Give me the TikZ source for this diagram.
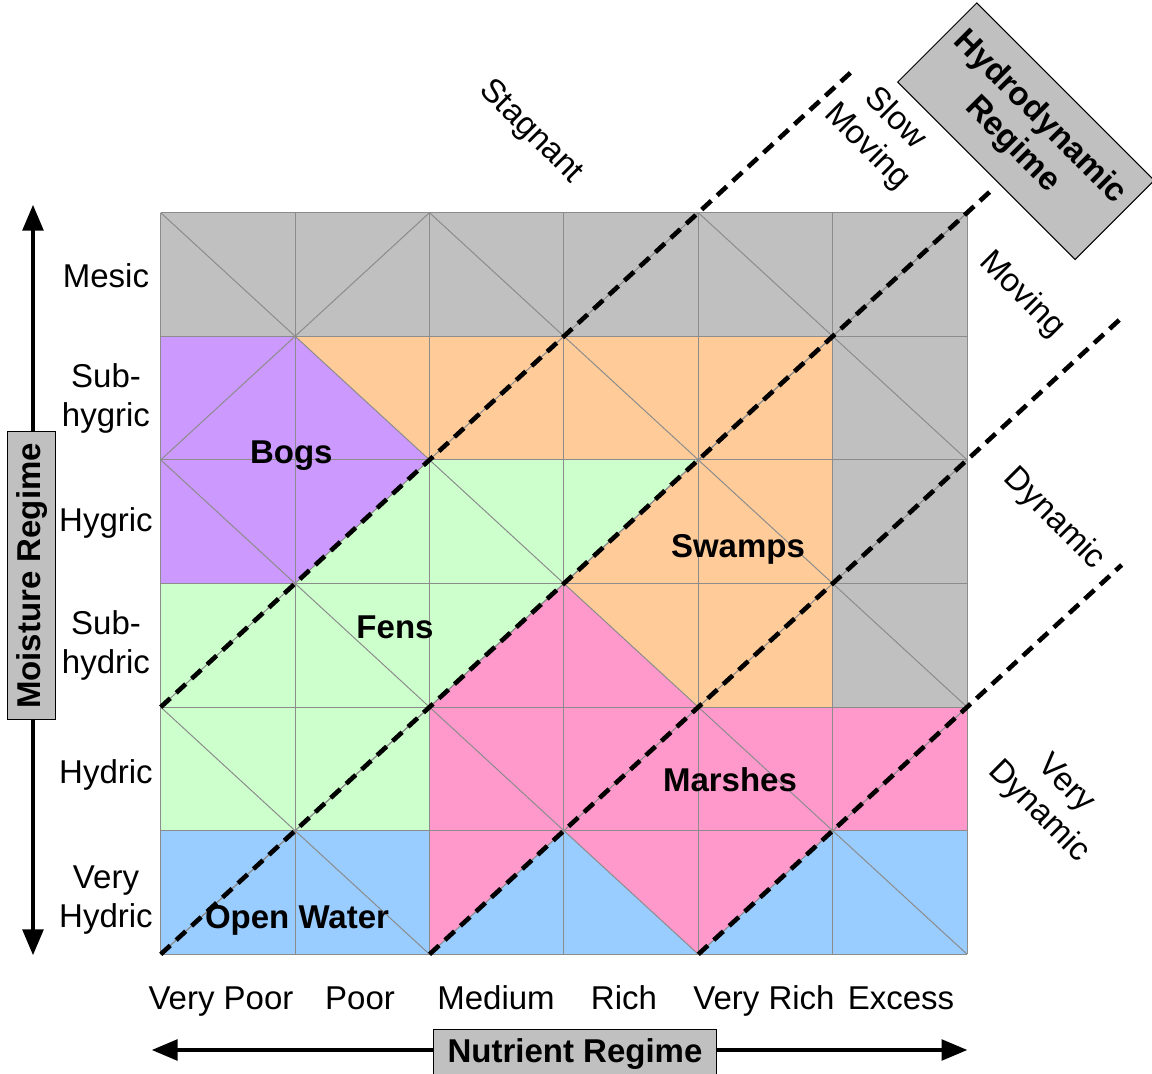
\documentclass[tikz,border=0pt]{standalone}
\usepackage{fontspec}
\setmainfont{Liberation Sans}
\usetikzlibrary{arrows}

\definecolor{mesicgray}{HTML}{C0C0C0}
\definecolor{bogpurple}{HTML}{CC99FF}
\definecolor{swamporange}{HTML}{FFCC99}
\definecolor{fengreen}{HTML}{CCFFCC}
\definecolor{marshpink}{HTML}{FF99CC}
\definecolor{waterblue}{HTML}{99CCFF}
\definecolor{gridgray}{HTML}{8C8C8C}

\begin{document}
\begin{tikzpicture}[x=67.2pt,y=61.8pt]
	\tikzset{cellline/.style={draw=gridgray, line width=0.5pt}}
	\tikzset{border/.style={black, line width=2.3pt, dash pattern=on 6.5pt off 4pt}}
	\tikzset{axis/.style={<->, >=triangle 45, line width=2pt}}
	\tikzset{regime/.style={font=\fontsize{16.5}{19.5}\selectfont, align=center, inner sep=0pt}}
	\tikzset{class/.style={font=\fontsize{16.5}{19.5}\selectfont\bfseries, inner sep=0pt, anchor=base}}
	\tikzset{titlebox/.style={draw, fill=mesicgray, line width=0.5pt, inner sep=0pt,
			font=\fontsize{16.5}{19.5}\selectfont\bfseries, align=center}}
	\useasboundingbox (-1.1957,-0.9684) rectangle (7.3757,7.7209);
	%regions
	\fill[mesicgray] (0,0) rectangle (6,6);
	\fill[waterblue] (0,0) rectangle (6,1);
	\fill[fengreen] (0,1) -- (2,1) -- (2,2) -- (4,4) -- (2,4) -- (1,3) -- (0,3) -- cycle;
	\fill[bogpurple] (0,3) -- (1,3) -- (2,4) -- (1,5) -- (0,5) -- cycle;
	\fill[swamporange] (1,5) -- (5,5) -- (5,2) -- (4,2) -- (3,3) -- (4,4) -- (2,4) -- cycle;
	\fill[marshpink] (2,0) -- (3,1) -- (4,0) -- (5,1) -- (6,1) -- (6,2) -- (4,2) -- (3,3) -- (2,2) -- cycle;
	%grid
	\foreach \i in {0,...,6} {
		\draw[cellline] (\i,0) -- (\i,6);
		\draw[cellline] (0,\i) -- (6,\i);
	}
	\foreach \c in {0,2,4} {
		\draw[cellline] (\c,0) -- (6,6-\c);
		\draw[cellline] (0,\c) -- (6-\c,6);
	}
	\foreach \c in {2,4,6} \draw[cellline] (0,\c) -- (\c,0);
	\foreach \c in {2,4} \draw[cellline] (\c,6) -- (6,\c);
	%boundaries
	\coordinate (a0) at (0,0);
	\coordinate (a1) at (6.17,6.17);
	\coordinate (b0) at (0,2);
	\coordinate (b1) at (5.16,7.16);
	\coordinate (c0) at (2,0);
	\coordinate (c1) at (7.17,5.17);
	\coordinate (d0) at (4,0);
	\coordinate (d1) at (7.15,3.15);
	\draw[border] (a0) -- (a1);
	\draw[border] (b0) -- (b1);
	\draw[border] (c0) -- (c1);
	\draw[border] (d0) -- (d1);
	%wetland classes
	\node[class] (bogs) at (0.9717,3.9684) {Bogs};
	\node[class] (fens) at (1.7433,2.5526) {Fens};
	\node[class] (swamps) at (4.2954,3.2079) {Swamps};
	\node[class] (marshes) at (4.2359,1.3147) {Marshes};
	\node[class] (water) at (1.0141,0.2063) {Open Water};
	%moisture
	\node[regime, anchor=base] (mesic) at (-0.407,5.393) {Mesic};
	\node[regime] (subhygric) at (-0.407,4.5) {Sub-\\hygric};
	\node[regime, anchor=base] (hygric) at (-0.407,3.418) {Hygric};
	\node[regime] (subhydric) at (-0.407,2.5) {Sub-\\hydric};
	\node[regime, anchor=base] (hydric) at (-0.407,1.3795) {Hydric};
	\node[regime] (vhydric) at (-0.407,0.435) {Very\\Hydric};
	\coordinate (mtop) at (-0.9502,6.062);
	\coordinate (mbot) at (-0.9502,-0.0057);
	\draw[axis] (mbot) -- (mtop);
	\node[titlebox, rotate=90, minimum width=144pt, minimum height=24pt] (moisture) at (-0.9576,3.0607) {Moisture Regime};
	%nutrients
	\node[regime, anchor=base] (vpoor) at (0.4487,-0.449) {Very Poor};
	\node[regime, anchor=base] (poor) at (1.4829,-0.449) {Poor};
	\node[regime, anchor=base] (medium) at (2.4948,-0.449) {Medium};
	\node[regime, anchor=base] (rich) at (3.4472,-0.449) {Rich};
	\node[regime, anchor=base] (vrich) at (4.4888,-0.449) {Very Rich};
	\node[regime, anchor=base] (excess) at (5.5082,-0.449) {Excess};
	\coordinate (nleft) at (-0.0647,-0.7743);
	\coordinate (nright) at (6.0,-0.7743);
	\draw[axis] (nleft) -- (nright);
	\node[titlebox, minimum width=141.5pt, minimum height=24pt] (nutrient) at (3.0826,-0.8066) {Nutrient Regime};
	%hydrodynamics
	\node[regime, rotate=-45] (stagnant) at (2.7515,6.6529) {Stagnant};
	\node[regime, rotate=-45] (slow) at (5.3587,6.6448) {Slow\\Moving};
	\node[regime, rotate=-45] (moving) at (6.4085,5.3342) {Moving};
	\node[regime, rotate=-45] (dynamic) at (6.6466,3.5219) {Dynamic};
	\node[regime, rotate=-45] (vdynamic) at (6.63,1.262) {Very\\Dynamic};
	\node[titlebox, rotate=-45, minimum width=125.5pt, minimum height=56pt] (hydro) at (6.438,6.659) {Hydrodynamic\\Regime};
\end{tikzpicture}
\end{document}
